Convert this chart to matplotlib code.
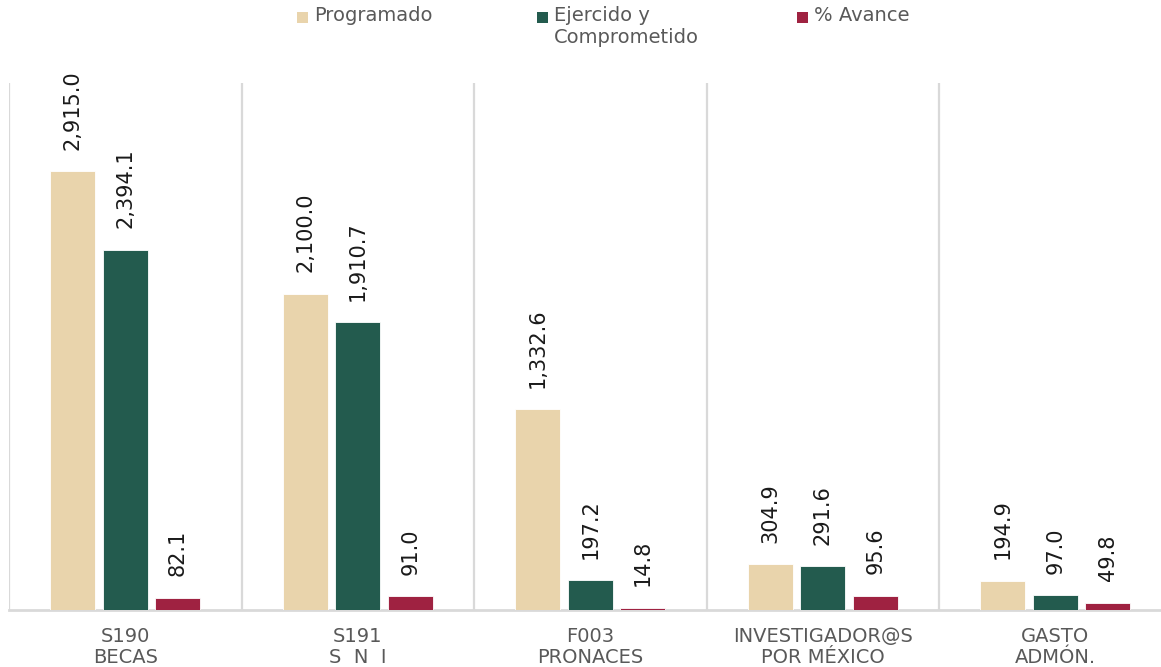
import matplotlib.pyplot as plt
import numpy as np
from matplotlib.patches import Rectangle

categories = ['S190\nBECAS', 'S191\nS  N  I', 'F003\nPRONACES', 'INVESTIGADOR@S\nPOR MÉXICO', 'GASTO\nADMÓN.']
programado = [2915.0, 2100.0, 1332.6, 304.9, 194.9]
ejercido = [2394.1, 1910.7, 197.2, 291.6, 97.0]
avance = [82.1, 91.0, 14.8, 95.6, 49.8]
series_names = ['Programado', 'Ejercido y\nComprometido', '% Avance']

colors = ['#E9D4AC', '#235B4E', '#9F2241']
grid_c = '#D9D9D9'
txt_c = '#595959'

plt.rcParams['font.family'] = ['DejaVu Sans']

W, H = 1161, 667
fig = plt.figure(figsize=(W/100, H/100), dpi=100)
ax = fig.add_axes([9/W, 57/H, 1152/W, 527/H])

x = np.arange(len(categories))
w = 0.194
offs = [-0.226, 0.0, 0.226]

for vals, off, c in zip([programado, ejercido, avance], offs, colors):
    bars = ax.bar(x + off, vals, w, color=c, edgecolor='white', linewidth=0.6, zorder=3)
    for b, v in zip(bars, vals):
        ax.annotate(f'{v:,.1f}', xy=(b.get_x() + b.get_width()/2, v),
                    xytext=(0, 15.5), textcoords='offset points',
                    rotation=90, ha='center', va='bottom',
                    fontsize=15, color='#1A1A1A')

for s in np.arange(len(categories)) - 0.5:
    ax.axvline(s, color=grid_c, lw=1.6, zorder=1)

ax.set_xlim(-0.5, -0.5 + 1152/232.5)
ax.set_ylim(0, 3500)
ax.set_yticks([])
ax.set_xticks(x)
ax.set_xticklabels(categories, fontsize=14, color=txt_c, linespacing=1.15)
ax.tick_params(axis='x', length=0, pad=12)
for sp in ['top', 'right', 'left']:
    ax.spines[sp].set_visible(False)
ax.spines['bottom'].set_color(grid_c)
ax.spines['bottom'].set_linewidth(2)

# legend drawn by hand so the square sits on the first text line
leg_marker_x = [297, 537, 797]
for mx, c, name in zip(leg_marker_x, colors, series_names):
    fig.patches.append(Rectangle((mx/W, 1 - 23/H), 11/W, 11/H, transform=fig.transFigure,
                                 facecolor=c, edgecolor='none'))
    fig.text((mx + 17)/W, 1 - 6/H, name, ha='left', va='top', fontsize=14,
             color=txt_c, linespacing=1.2)

fig.savefig('out.png', dpi=100)
